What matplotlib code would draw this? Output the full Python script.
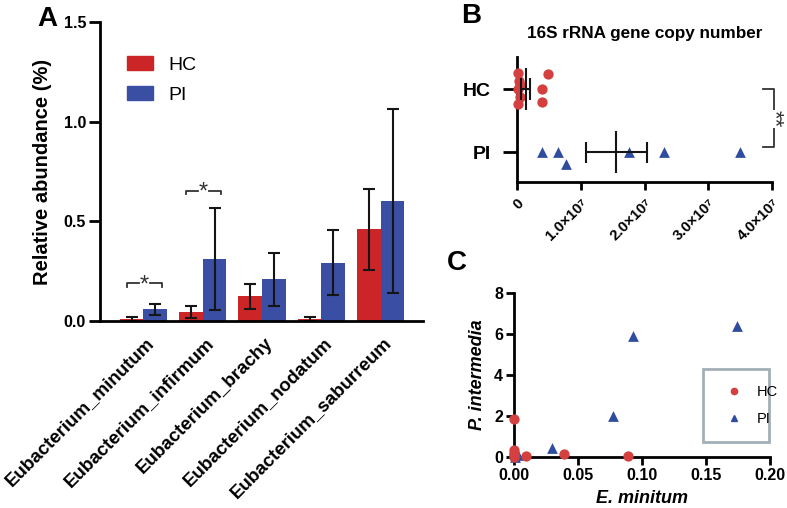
import numpy as np
import matplotlib
matplotlib.use("Agg")
import matplotlib.pyplot as plt
from matplotlib.patches import Patch
from matplotlib.lines import Line2D
from matplotlib.transforms import ScaledTranslation

plt.rcParams['font.family'] = ['Liberation Sans', 'DejaVu Sans']

# --- Panel A: relative abundance (%) ---
species = ["Eubacterium_minutum", "Eubacterium_infirmum", "Eubacterium_brachy",
           "Eubacterium_nodatum", "Eubacterium_saburreum"]
hc_mean = [0.009, 0.044, 0.125, 0.010, 0.460]
hc_err = [0.010, 0.029, 0.063, 0.010, 0.203]
pi_mean = [0.059, 0.311, 0.209, 0.293, 0.602]
pi_err = [0.028, 0.255, 0.132, 0.163, 0.460]
sig_groups = [0, 1]          # species index with a "*"
sig_heights = [0.19, 0.654]

# --- Panel B: 16S rRNA gene copy number (x 1e7) ---
hc_copies = [0.01, 0.03, 0.02, 0.04, 0.02, 0.05, 0.387, 0.387, 0.48]
hc_jitter = [0.26, 0.13, 0.0, -0.12, -0.24, 0.06, 0.0, -0.21, 0.24]
pi_copies = [0.387, 0.648, 0.77, 1.76, 2.30, 3.50]
pi_jitter = [0.0, 0.0, -0.19, 0.0, 0.0, 0.0]
copy_mean = [0.137, 1.56]    # HC, PI
copy_sem = [0.068, 0.485]
b_ticks = [0, 1, 2, 3, 4]
b_ticklabels = ["0", "1.0×10⁷", "2.0×10⁷", "3.0×10⁷", "4.0×10⁷"]

# --- Panel C: E. minitum vs P. intermedia ---
hc_em = [0.0, 0.0, 0.0, 0.0, 0.0, 0.009, 0.039, 0.089]
hc_pint = [1.85, 0.35, 0.2, 0.08, 0.0, 0.03, 0.13, 0.03]
pi_em = [0.001, 0.003, 0.030, 0.077, 0.093, 0.174]
pi_pint = [0.02, 0.08, 0.46, 2.0, 5.92, 6.4]

red_bar = '#CC2528'
blue_bar = '#3A4EA3'
red_pt = '#D4403F'
blue_pt = '#2F4C9E'

W, H = 787, 508
fig = plt.figure(figsize=(W / 100, H / 100), dpi=100)


def px_axes(x0, y0, x1, y1):
    return fig.add_axes([x0 / W, 1 - y1 / H, (x1 - x0) / W, (y1 - y0) / H])


def style(ax):
    for s in ['top', 'right']:
        ax.spines[s].set_visible(False)
    for s in ['left', 'bottom']:
        ax.spines[s].set_linewidth(2)


# ---------------- A ----------------
axA = px_axes(100, 22, 423, 321)
style(axA)
x = np.arange(len(species))
w = 0.40
ekw = dict(lw=1.5, capthick=1.5, ecolor='#151515')
axA.bar(x - w / 2, hc_mean, w, color=red_bar, yerr=hc_err, capsize=4.3, error_kw=ekw)
axA.bar(x + w / 2, pi_mean, w, color=blue_bar, yerr=pi_err, capsize=4.3, error_kw=ekw)
axA.set_xlim(-0.733, 4.714)
axA.set_ylim(0, 1.5)
axA.set_yticks([0, 0.5, 1.0, 1.5])
axA.set_yticklabels(["0.0", "0.5", "1.0", "1.5"])
axA.tick_params(axis='y', length=8, width=2, pad=2, labelsize=11.5)
for t in axA.get_yticklabels():
    t.set_fontweight('bold')
axA.set_xticks([])
axA.set_ylabel('Relative abundance (%)', fontsize=14.5, fontweight='bold', labelpad=8)

off = ScaledTranslation(0.08, -0.19, fig.dpi_scale_trans)
for i, name in enumerate(species):
    axA.text(i, 0, name, transform=axA.get_xaxis_transform() + off,
             rotation=45, ha='right', va='center', rotation_mode='anchor',
             fontsize=13.5, fontweight='bold', clip_on=False)

for g, yh in zip(sig_groups, sig_heights):
    l, r, c = g - 0.28, g + 0.31, g + 0.015
    axA.plot([l, l, c - 0.09], [yh - 0.018, yh, yh], color='#333333', lw=1.3)
    axA.plot([c + 0.09, r, r], [yh, yh, yh - 0.018], color='#333333', lw=1.3)
    axA.text(c, yh - 0.01, '*', ha='center', va='center', fontsize=17, color='#333333')

axA.legend(handles=[Patch(color=red_bar, label='HC'), Patch(color=blue_bar, label='PI')],
           loc='upper left', bbox_to_anchor=(0.03, 0.945), frameon=False, fontsize=14,
           handlelength=1.35, handleheight=0.72, handletextpad=0.75, labelspacing=0.65)

fig.text(37 / W, 1 - 6 / H, 'A', fontsize=20, fontweight='bold', va='top')

# ---------------- B ----------------
axB = px_axes(517, 57, 772, 182)
style(axB)
axB.scatter(hc_copies, 1 + np.array(hc_jitter), s=55, color=red_pt, zorder=3, clip_on=False, lw=0)
axB.scatter(pi_copies, np.array(pi_jitter), s=60, marker='^', color=blue_pt, zorder=3, clip_on=False, lw=0)
for yy, m, se in zip([1, 0], copy_mean, copy_sem):
    axB.vlines(m, yy - 0.33, yy + 0.33, color='#151515', lw=1.5, zorder=4)
    axB.vlines([m - se, m + se], yy - 0.17, yy + 0.17, color='#151515', lw=1.5, zorder=4)
    axB.hlines(yy, m - se, m + se, color='#151515', lw=1.5, zorder=4)
axB.set_xlim(0, 4)
axB.set_ylim(-0.47, 1.51)
axB.set_yticks([1, 0])
axB.set_yticklabels(['HC', 'PI'])
axB.tick_params(axis='y', length=10, width=2, pad=9, labelsize=14)
axB.set_xticks(b_ticks)
axB.set_xticklabels(b_ticklabels, rotation=45, ha='right', va='top', rotation_mode='anchor')
axB.tick_params(axis='x', length=6, width=2, pad=4, labelsize=10.8)
for t in axB.get_xticklabels() + axB.get_yticklabels():
    t.set_fontweight('bold')
axB.set_title('16S rRNA gene copy number', fontsize=12.3, fontweight='bold', pad=14)

# significance bracket
axB.plot([3.86, 4.03, 4.03, 3.86], [1.0, 1.0, 0.09, 0.09], color='#333333', lw=1.3, clip_on=False)
axB.text(4.03, 0.53, '**', rotation=270, ha='center', va='center', fontsize=16,
         color='#333333', clip_on=False,
         bbox=dict(facecolor='white', edgecolor='none', pad=0.5))

fig.text(461 / W, 1 - 3 / H, 'B', fontsize=20, fontweight='bold', va='top')

# ---------------- C ----------------
axC = px_axes(514, 293, 770, 457)
style(axC)
axC.scatter(pi_em, pi_pint, s=60, marker='^', color=blue_pt, zorder=3, clip_on=False, lw=0, label='PI')
axC.scatter(hc_em, hc_pint, s=55, color=red_pt, zorder=4, clip_on=False, lw=0, label='HC')
axC.set_xlim(0, 0.2)
axC.set_ylim(0, 8)
axC.set_xticks([0, 0.05, 0.10, 0.15, 0.20])
axC.set_xticklabels(["0.00", "0.05", "0.10", "0.15", "0.20"])
axC.set_yticks([0, 2, 4, 6, 8])
axC.tick_params(length=6, width=2, pad=2, labelsize=11.5)
for t in axC.get_xticklabels() + axC.get_yticklabels():
    t.set_fontweight('bold')
axC.set_xlabel('E. minitum', fontsize=13, fontweight='bold', style='italic', labelpad=5)
axC.set_ylabel('P. intermedia', fontsize=13, fontweight='bold', style='italic', labelpad=6)

hnd = [Line2D([], [], ls='none', marker='o', color=red_pt, markersize=4.5, label='HC'),
       Line2D([], [], ls='none', marker='^', color=blue_pt, markersize=4.5, label='PI')]
legC = axC.legend(handles=hnd, loc='lower left', bbox_to_anchor=(0.738, 0.092, 0.258, 0.408),
                  mode='expand', fontsize=10.5, frameon=True, fancybox=False,
                  borderpad=1.1, labelspacing=0.9, handletextpad=0.6, borderaxespad=0)
legC.get_frame().set_edgecolor('#8C9BA5')
legC.get_frame().set_linewidth(2)

fig.text(447 / W, 1 - 250 / H, 'C', fontsize=20, fontweight='bold', va='top')

fig.savefig('out.png', dpi=100)
